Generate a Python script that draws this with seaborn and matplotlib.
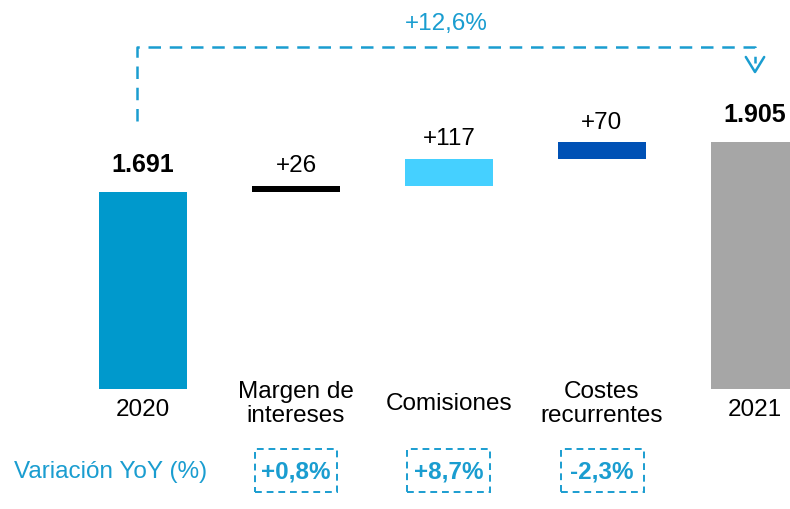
import numpy as np
import pandas as pd
import matplotlib
matplotlib.use("Agg")
from matplotlib import pyplot as plt
from matplotlib.patches import Rectangle
from matplotlib.transforms import blended_transform_factory
import seaborn as sns

# data
categories = ["2020", "Margen de\nintereses", "Comisiones", "Costes\nrecurrentes", "2021"]
start_total = 1691
increments = [26, 117, 70]
end_total = 1905
value_labels = ["1.691", "+26", "+117", "+70", "1.905"]
yoy_labels = ["+0,8%", "+8,7%", "-2,3%"]
total_change = "+12,6%"
bar_colors = ["#0099CC", "#000000", "#45D0FF", "#0051B5", "#A6A6A6"]

BLUE = "#1A9DD0"
BASE = 844  # truncated axis: bars start here
W, H = 790, 510


def py(p):
    # pixel row (from top) -> axes fraction
    return 1 - p / H


def build_frame():
    tops, bottoms = [start_total], [BASE]
    level = start_total
    for inc in increments:
        bottoms.append(level)
        level += inc
        tops.append(level)
    tops.append(end_total)
    bottoms.append(BASE)
    df = pd.DataFrame({"cat": categories, "top": tops, "bottom": bottoms})
    df["height"] = df["top"] - df["bottom"]
    return df


if __name__ == '__main__':
    sns.set_theme(style="white")
    plt.rcParams['font.family'] = ['Liberation Sans', 'DejaVu Sans']

    df = build_frame()
    fig = plt.figure(figsize=(W / 100, H / 100), dpi=100)
    ax = fig.add_axes([0, 0, 1, 1])

    sns.barplot(data=df, x="cat", y="height", bottom=df["bottom"].values,
                color="#999999", width=0.572, errorbar=None, saturation=1,
                linewidth=0, ax=ax)
    for patch, c in zip(ax.patches, bar_colors):
        patch.set_facecolor(c)

    # scale: 1691 at pixel 193, ~4.3 units per pixel
    s = 4.3
    ax.set_ylim(start_total - (H - 193) * s, start_total + 193 * s)
    ax.set_xlim(-143 / 153, (W - 143) / 153)
    ax.axis("off")

    blend = blended_transform_factory(ax.transData, ax.transAxes)

    # value labels above bars
    n = len(categories)
    for i, row in df.iterrows():
        is_total = i in (0, n - 1)
        ax.annotate(value_labels[i], (i, row["top"]),
                    xytext=(0, 20 if is_total else 15), textcoords="offset points",
                    ha="center", va="center", fontsize=18 if is_total else 17.5,
                    fontweight="bold" if is_total else "normal", color="black")

    # category labels
    for i, cat in enumerate(categories):
        y = 404 if "\n" in cat or i not in (0, n - 1) else 410
        ax.text(i, py(y), cat, transform=blend, ha="center", va="center",
                fontsize=17.5, color="black", linespacing=1.12,
                multialignment="center")

    # overall change bracket
    x_left, x_right = -0.04, 4.0
    ax.plot([x_left, x_left, x_right, x_right], [py(122), py(48), py(48), py(64)],
            transform=blend, color=BLUE, lw=1.8, ls=(0, (5, 3.5)),
            solid_capstyle="butt", clip_on=False)
    ax.plot([x_right - 0.06, x_right, x_right + 0.06], [py(58), py(73), py(58)],
            transform=blend, color=BLUE, lw=1.8, clip_on=False)
    ax.text((x_left + x_right) / 2, py(24), total_change, transform=blend,
            ha="center", va="center", fontsize=17.5, color=BLUE)

    # YoY row
    fig.text(14 / W, py(472), "Variación YoY (%)", ha="left", va="center",
             fontsize=17.5, color=BLUE)
    bw = 83 / 153
    for j, lab in enumerate(yoy_labels):
        i = j + 1
        ax.add_patch(Rectangle((i - bw / 2, py(493)), bw, 43 / H, transform=blend,
                               fill=False, ec=BLUE, lw=1.4, ls=(0, (3.5, 2.5)),
                               clip_on=False))
        ax.text(i, py(472), lab, transform=blend, ha="center", va="center",
                fontsize=17.5, fontweight="bold", color=BLUE)

    fig.savefig("out.png", dpi=100)
